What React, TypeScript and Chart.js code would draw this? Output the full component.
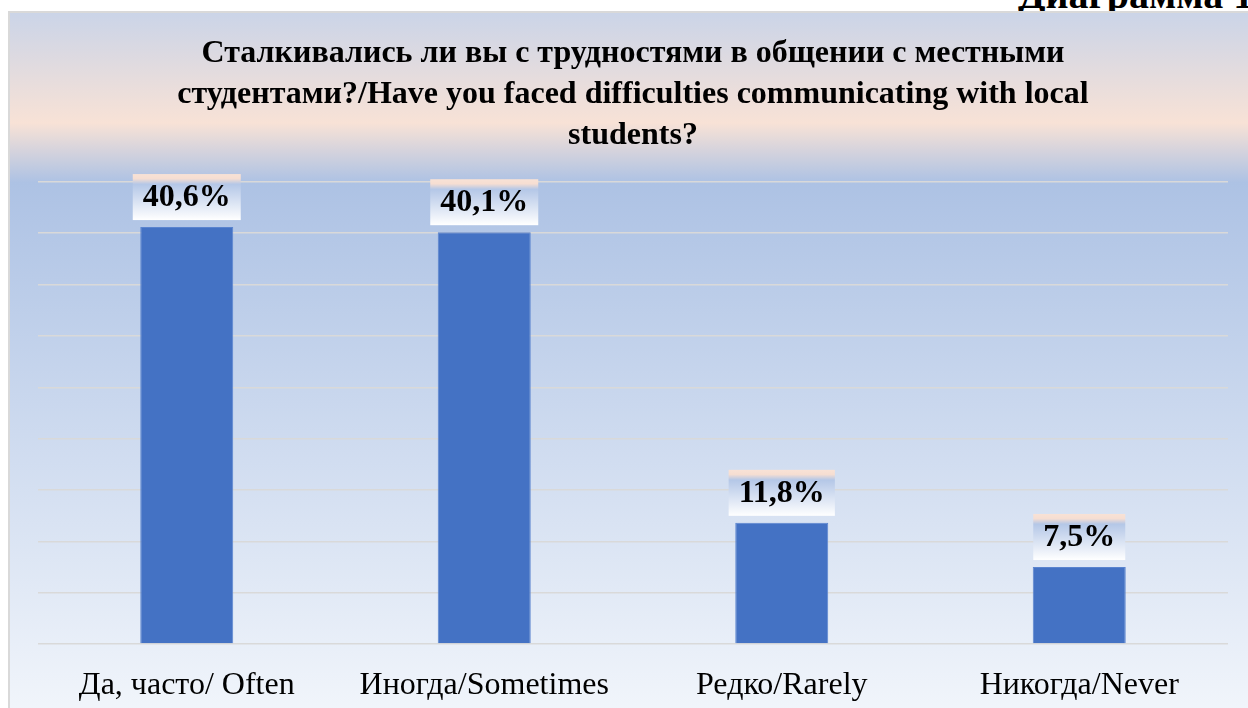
import React, { useEffect, useRef } from "react";
import { Chart, registerables } from "chart.js";

Chart.register(...registerables);

const categories = ["Да, часто/ Often", "Иногда/Sometimes", "Редко/Rarely", "Никогда/Never"];
const values = [40.6, 40.1, 11.8, 7.5];
const titleLines = [
  "Сталкивались ли вы с трудностями в общении с местными",
  "студентами?/Have you faced difficulties communicating with local",
  "students?",
];
const captionText = "Диаграмма 12";
const yMax = 45;
const yStep = 5;

const SERIF = "'Liberation Serif', 'Times New Roman', 'DejaVu Serif', serif";

const bgPlugin = {
  id: "bgPlugin",
  beforeDraw(chart: any) {
    const { ctx, width, height } = chart;
    ctx.save();
    const g = ctx.createLinearGradient(0, 0, 0, height);
    g.addColorStop(0, "#cad4e8");
    g.addColorStop(0.16, "#f8e2d6");
    g.addColorStop(0.245, "#adc2e4");
    g.addColorStop(1, "#f1f5fb");
    ctx.fillStyle = g;
    ctx.fillRect(0, 0, width, height);
    ctx.strokeStyle = "#d9d9d9";
    ctx.lineWidth = 2;
    ctx.strokeRect(1, 1, width - 2, height - 2);
    ctx.restore();
  },
};

const labelPlugin = {
  id: "labelPlugin",
  afterDatasetsDraw(chart: any) {
    const { ctx } = chart;
    const meta = chart.getDatasetMeta(0);
    ctx.save();
    ctx.font = `bold 32px ${SERIF}`;
    ctx.textAlign = "center";
    ctx.textBaseline = "middle";
    meta.data.forEach((bar: any, i: number) => {
      const v = chart.data.datasets[0].data[i] as number;
      const text = v.toFixed(1).replace(".", ",") + "%";
      const tw = ctx.measureText(text).width;
      const bw = tw + 20;
      const bh = 46;
      const bx = bar.x - bw / 2;
      const by = bar.y - 7 - bh;
      const g = ctx.createLinearGradient(0, by, 0, by + bh);
      g.addColorStop(0, "#f8e2d6");
      g.addColorStop(0.1, "#f6ded2");
      g.addColorStop(0.22, "#b4c7e7");
      g.addColorStop(1, "#ffffff");
      ctx.fillStyle = g;
      ctx.fillRect(bx, by, bw, bh);
      ctx.fillStyle = "#000000";
      ctx.fillText(text, bar.x, by + bh / 2 + 1);
    });
    ctx.restore();
  },
};

export default function App() {
  const ref = useRef<HTMLCanvasElement | null>(null);

  useEffect(() => {
    if (!ref.current) return;
    const chart = new Chart(ref.current, {
      type: "bar",
      data: {
        labels: categories,
        datasets: [
          {
            data: values,
            backgroundColor: "#4472c4",
            borderColor: "#5a84cf",
            borderWidth: 1,
            barPercentage: 1,
            categoryPercentage: 0.3126,
          },
        ],
      },
      options: {
        animation: false,
        responsive: false,
        devicePixelRatio: 1,
        layout: { padding: { left: 30, right: 30, top: 0, bottom: 7 } },
        plugins: {
          legend: { display: false },
          tooltip: { enabled: false },
          title: {
            display: true,
            text: titleLines,
            color: "#000000",
            font: { family: SERIF, size: 32, weight: "bold", lineHeight: 1.28 },
            padding: { top: 22, bottom: 26 },
          },
        },
        scales: {
          x: {
            grid: { display: false, drawTicks: false },
            border: { display: false },
            afterFit(scale: any) {
              scale.height = 60;
            },
            ticks: {
              color: "#000000",
              font: { family: SERIF, size: 32, lineHeight: 1.2 },
              padding: 22,
              maxRotation: 0,
              autoSkip: false,
            },
          },
          y: {
            min: 0,
            max: yMax,
            ticks: { display: false, stepSize: yStep },
            border: { display: false },
            grid: { color: "#d9d9d9", lineWidth: 1.5, drawTicks: false },
          },
        },
      },
      plugins: [bgPlugin, labelPlugin],
    });
    return () => chart.destroy();
  }, []);

  return (
    <div
      style={{
        position: "fixed",
        left: 0,
        top: 0,
        width: 1248,
        height: 708,
        overflow: "hidden",
        background: "#ffffff",
      }}
    >
      <div
        style={{
          position: "absolute",
          left: 1018,
          top: -25,
          fontFamily: SERIF,
          fontWeight: "bold",
          fontSize: 40,
          lineHeight: 1,
          whiteSpace: "nowrap",
          color: "#000",
        }}
      >
        {captionText}
      </div>
      <div style={{ position: "absolute", left: 8, top: 11, width: 1250, height: 700 }}>
        <canvas ref={ref} width={1250} height={700} style={{ display: "block", width: 1250, height: 700 }} />
      </div>
    </div>
  );
}
